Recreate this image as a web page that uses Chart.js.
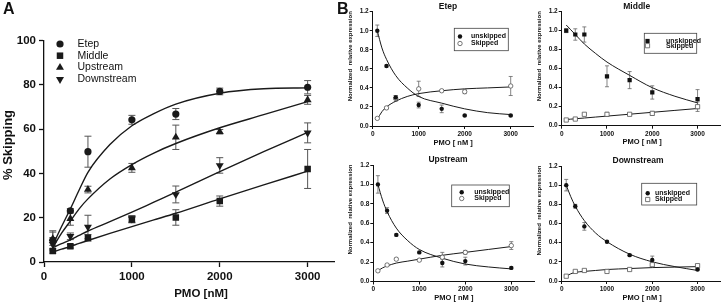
<!DOCTYPE html>
<html><head><meta charset="utf-8">
<script src="https://cdn.jsdelivr.net/npm/chart.js@4.4.1/dist/chart.umd.min.js"></script>
<style>
html,body{margin:0;padding:0;background:#fff;}
#wrap{position:relative;width:725px;height:305px;overflow:hidden;background:#fff;}
#wrap canvas{position:absolute;left:0;top:0;}
</style></head><body><div id="wrap"></div>
<script>
// ---------- DATA ----------
const doses = [100, 300, 500, 1000, 1500, 2000, 3000];
const xTicksA = [0, 1000, 2000, 3000];
const yTicksA = [0, 20, 40, 60, 80, 100];

// Panel A: % skipping (mean, error)
const etepSkip = [9.8, 23.1, 49.8, 64.2, 66.8, 77.0, 78.9];
const etepSkipErr = [4.3, 1.0, 7.0, 2.0, 2.5, 1.5, 3.0];
const middleSkip = [5.0, 7.1, 10.9, 19.2, 20.1, 27.5, 42.0];
const middleSkipErr = [1.0, 0.8, 1.5, 1.5, 3.5, 2.3, 8.8];
const upstreamSkip = [10.5, 19.6, 32.7, 42.5, 56.3, 58.8, 73.2];
const upstreamSkipErr = [3.0, 3.0, 1.5, 2.0, 5.5, 1.0, 2.0];
const downstreamSkip = [8.0, 11.6, 15.8, 19.5, 30.5, 43.6, 58.3];
const downstreamSkipErr = [3.0, 1.5, 5.3, 1.5, 3.8, 3.5, 4.5];

// Panel A fitted curves
const fitDosesA = [100, 200, 300, 400, 500, 750, 1000, 1250, 1500, 2000, 2500, 3000];
const etepFitA = [7.5, 16, 24, 32.5, 40.5, 53, 61.5, 67, 71.3, 76.2, 78.2, 78.6];
const upstreamFitA = [6.5, 13, 18.5, 24, 28.5, 37.5, 44, 49.2, 53.5, 60.6, 66.5, 72.4];
const downstreamFitA = [6.5, 8.3, 10, 12, 14, 18.2, 22.5, 27, 31.5, 40.8, 49.8, 58.5];
const middleFitA = [4.5, 5.8, 7, 8.4, 9.7, 12.9, 16, 19, 22, 28.5, 34.8, 41];

// Panel B: normalized relative expression
const fitDosesB = [100, 200, 300, 500, 750, 1000, 1500, 2000, 2500, 3000];

const etepUnsk = [1.0, 0.63, 0.30, 0.22, 0.18, 0.11, 0.11];
const etepUnskErr = [0.06, 0.01, 0.02, 0.03, 0.04, 0.01, 0.01];
const etepSk = [0.08, 0.19, 0.29, 0.39, 0.37, 0.36, 0.42];
const etepSkErr = [0.005, 0.01, 0.03, 0.08, 0.01, 0.02, 0.10];
const etepUnskFit = [1.0, 0.82, 0.70, 0.53, 0.40, 0.31, 0.24, 0.18, 0.14, 0.12];
const etepSkFit = [0.07, 0.15, 0.20, 0.26, 0.31, 0.34, 0.37, 0.39, 0.40, 0.41];

const middleUnsk = [1.0, 0.96, 0.96, 0.52, 0.48, 0.35, 0.28];
const middleUnskErr = [0.02, 0.06, 0.08, 0.11, 0.09, 0.07, 0.10];
const middleSk = [0.06, 0.07, 0.12, 0.12, 0.12, 0.13, 0.20];
const middleSkErr = [0.01, 0.01, 0.01, 0.02, 0.01, 0.02, 0.05];
const middleUnskFit = [1.06, 1.01, 0.96, 0.86, 0.76, 0.67, 0.53, 0.40, 0.31, 0.24];
const middleSkFit = [0.065, 0.069, 0.073, 0.081, 0.091, 0.101, 0.121, 0.141, 0.161, 0.181];

const upstreamUnsk = [1.0, 0.73, 0.48, 0.30, 0.19, 0.21, 0.14];
const upstreamUnskErr = [0.09, 0.03, 0.01, 0.01, 0.04, 0.04, 0.01];
const upstreamSk = [0.11, 0.17, 0.23, 0.22, 0.25, 0.30, 0.37];
const upstreamSkErr = [0.01, 0.01, 0.01, 0.01, 0.05, 0.02, 0.04];
const upstreamUnskFit = [1.0, 0.84, 0.72, 0.55, 0.42, 0.33, 0.24, 0.18, 0.15, 0.13];
const upstreamSkFit = [0.11, 0.14, 0.16, 0.19, 0.21, 0.23, 0.27, 0.30, 0.33, 0.36];

const downstreamUnsk = [1.0, 0.78, 0.57, 0.41, 0.27, 0.22, 0.12];
const downstreamUnskErr = [0.06, 0.02, 0.04, 0.01, 0.01, 0.04, 0.01];
const downstreamSk = [0.05, 0.10, 0.11, 0.10, 0.12, 0.17, 0.16];
const downstreamSkErr = [0.01, 0.01, 0.01, 0.01, 0.01, 0.02, 0.01];
const downstreamUnskFit = [1.0, 0.88, 0.78, 0.63, 0.50, 0.41, 0.28, 0.20, 0.15, 0.11];
const downstreamSkFit = [0.05, 0.075, 0.09, 0.10, 0.11, 0.12, 0.13, 0.14, 0.145, 0.15];

// ---------- HELPERS ----------
const FAM = '"Liberation Sans", Arial, Helvetica, sans-serif';
const wrap = document.getElementById('wrap');
function pts(xs, ys) { return xs.map((x, i) => ({x: x, y: ys[i]})); }

const errPlugin = {
  id: 'errbars',
  beforeDatasetsDraw(chart) {
    const ctx = chart.ctx, xs = chart.scales.x, ys = chart.scales.y;
    chart.data.datasets.forEach(ds => {
      if (!ds.errs) return;
      ctx.save();
      ctx.strokeStyle = ds.errColor; ctx.lineWidth = ds.errWidth;
      const c = ds.errCap;
      ds.data.forEach((p, j) => {
        const e = ds.errs[j]; if (!e) return;
        const x = xs.getPixelForValue(p.x);
        const y1 = ys.getPixelForValue(p.y + e), y2 = ys.getPixelForValue(p.y - e);
        ctx.beginPath();
        ctx.moveTo(x, y1); ctx.lineTo(x, y2);
        ctx.moveTo(x - c, y1); ctx.lineTo(x + c, y1);
        ctx.moveTo(x - c, y2); ctx.lineTo(x + c, y2);
        ctx.stroke();
      });
      ctx.restore();
    });
  }
};
function makeText(items) {
  return { id: 'texts', afterDraw(chart) {
    const ctx = chart.ctx;
    items.forEach(it => {
      ctx.save();
      ctx.font = it.font; ctx.fillStyle = '#111';
      ctx.textAlign = it.align || 'center'; ctx.textBaseline = 'middle';
      ctx.translate(it.x, it.y);
      if (it.rot) ctx.rotate(it.rot);
      ctx.fillText(it.t, 0, 0);
      ctx.restore();
    });
  }};
}
function makeKey(key) {
  return { id: 'key', afterDraw(chart) {
    if (!key) return;
    const ctx = chart.ctx;
    if (key.box) {
      const b = key.box;
      ctx.save(); ctx.strokeStyle = '#444'; ctx.lineWidth = 0.8;
      ctx.strokeRect(b[0], b[1], b[2] - b[0], b[3] - b[1]); ctx.restore();
    }
    key.items.forEach(it => {
      const ds = chart.data.datasets[it.ds];
      ctx.save();
      ctx.fillStyle = ds.pointBackgroundColor; ctx.strokeStyle = ds.pointBorderColor;
      ctx.lineWidth = ds.pointBorderWidth;
      Chart.helpers.drawPoint(ctx, {pointStyle: ds.pointStyle, rotation: ds.pointRotation || 0,
        radius: ds.pointRadius, borderWidth: ds.pointBorderWidth}, it.mx, it.y);
      ctx.font = key.font; ctx.fillStyle = '#111'; ctx.textAlign = 'left'; ctx.textBaseline = 'middle';
      ctx.fillText(ds.label, it.tx, it.y);
      ctx.restore();
    });
  }};
}
function panel(p) {
  const c = document.createElement('canvas');
  c.width = 725; c.height = 305; wrap.appendChild(c);
  const axisCol = '#111';
  return new Chart(c, {
    type: 'scatter',
    data: {datasets: p.datasets},
    options: {
      responsive: false, animation: false, devicePixelRatio: 1, events: [],
      layout: {padding: {left: p.area.l - p.yW, right: 725 - p.area.r, top: p.area.t, bottom: 305 - p.area.b - p.xH}},
      plugins: {legend: {display: false}, tooltip: {enabled: false}, title: {display: false}},
      scales: {
        x: {type: 'linear', min: 0, max: p.xMax,
          afterFit: s => { s.height = p.xH; },
          afterBuildTicks: s => { s.ticks = p.xTicks.map(v => ({value: v})); },
          border: {color: axisCol, width: p.axisW},
          grid: {drawOnChartArea: false, tickLength: p.tickLen, tickColor: axisCol, tickWidth: p.axisW},
          ticks: {color: '#111', font: p.tickFont, padding: p.xPad, maxRotation: 0, autoSkip: false,
            callback: v => String(v)}},
        y: {type: 'linear', min: 0, max: p.yMax,
          afterFit: s => { s.width = p.yW; },
          afterBuildTicks: s => { s.ticks = p.yTicks.map(v => ({value: v})); },
          border: {color: axisCol, width: p.axisW},
          grid: {drawOnChartArea: false, tickLength: p.tickLen, tickColor: axisCol, tickWidth: p.axisW},
          ticks: {color: '#111', font: p.tickFont, padding: p.yPad, autoSkip: false,
            callback: p.yFmt}}
      }
    },
    plugins: [errPlugin, makeText(p.texts), makeKey(p.key)]
  });
}

// ---------- PANEL A ----------
const dark = '#1a1a1a';
function markA(label, ys, errs, style, rot) {
  return {label: label, data: pts(doses, ys), errs: errs, errColor: '#555', errWidth: 1, errCap: 3.5,
    showLine: false, pointStyle: style, pointRotation: rot || 0,
    pointRadius: style === 'circle' ? 3.6 : 4.6, pointBackgroundColor: dark, pointBorderColor: dark, pointBorderWidth: 0};
}
function curve(xs, ys, w) {
  return {label: '', data: pts(xs, ys), showLine: true, pointRadius: 0, borderColor: dark,
    borderWidth: w, cubicInterpolationMode: 'monotone', fill: false};
}
panel({
  area: {l: 44, r: 334, t: 40.5, b: 262}, yW: 44, xH: 43, xMax: 3300, yMax: 100,
  xTicks: xTicksA, yTicks: yTicksA, tickLen: 5, xPad: 3, yPad: 3, axisW: 1.3,
  tickFont: {family: FAM, size: 11.5, weight: 'bold'}, yFmt: v => String(v),
  datasets: [
    markA('Etep', etepSkip, etepSkipErr, 'circle'),
    markA('Middle', middleSkip, middleSkipErr, 'rect'),
    markA('Upstream', upstreamSkip, upstreamSkipErr, 'triangle'),
    markA('Downstream', downstreamSkip, downstreamSkipErr, 'triangle', 180),
    curve(fitDosesA, etepFitA, 1.4), curve(fitDosesA, middleFitA, 1.4),
    curve(fitDosesA, upstreamFitA, 1.4), curve(fitDosesA, downstreamFitA, 1.4)
  ],
  texts: [
    {t: 'A', x: 3, y: 9.5, align: 'left', font: 'bold 16px ' + FAM},
    {t: 'B', x: 337, y: 9.5, align: 'left', font: 'bold 16px ' + FAM},
    {t: '% Skipping', x: 8, y: 145, rot: -Math.PI / 2, font: 'bold 13px ' + FAM},
    {t: 'PMO [nM]', x: 201, y: 294, font: 'bold 11.5px ' + FAM}
  ],
  key: {font: '10.5px ' + FAM, items: [
    {ds: 0, mx: 60, tx: 77.5, y: 44}, {ds: 1, mx: 60, tx: 77.5, y: 55.7},
    {ds: 2, mx: 60, tx: 77.5, y: 67.5}, {ds: 3, mx: 60, tx: 77.5, y: 79.3}
  ]}
});

// ---------- PANEL B ----------
function markB(label, ys, errs, style, filled) {
  return {label: label, data: pts(doses, ys), errs: errs, errColor: '#666', errWidth: 0.8, errCap: 2,
    showLine: false, pointStyle: style, pointRadius: style === 'circle' ? 2.2 : 3,
    pointBackgroundColor: filled ? '#111' : '#fff', pointBorderColor: filled ? '#111' : '#555',
    pointBorderWidth: filled ? 0 : 0.8};
}
const yTicksB = [0, 0.2, 0.4, 0.6, 0.8, 1.0, 1.2];
function panelB(o) {
  const a = o.area, cx = (a.l + a.r) / 2;
  panel({
    area: a, yW: 30, xH: o.xH, xMax: 3500, yMax: 1.2,
    xTicks: xTicksA, yTicks: yTicksB, tickLen: 3, xPad: o.xPad, yPad: 1, axisW: 1,
    tickFont: {family: FAM, size: 6.5, weight: 'bold'}, yFmt: v => v.toFixed(1),
    datasets: [
      markB('unskipped', o.unsk, o.unskErr, o.unskStyle, true),
      markB('Skipped', o.sk, o.skErr, o.skStyle, false),
      curve(fitDosesB, o.unskFit, 1), curve(fitDosesB, o.skFit, 1)
    ],
    texts: [
      {t: o.title, x: o.titleX, y: a.t - 5.5, font: 'bold 8.5px ' + FAM},
      {t: 'Normalized  relative expression', x: a.l - 22.7, y: a.t + 44.5, rot: -Math.PI / 2, font: 'bold 6px ' + FAM},
      {t: 'PMO [ nM ]', x: cx, y: a.b + 16.5, font: 'bold 7.5px ' + FAM}
    ],
    key: {font: 'bold 7px ' + FAM, box: o.box, items: [
      {ds: 0, mx: o.mx, tx: o.tx, y: o.ky[0]}, {ds: 1, mx: o.mx, tx: o.tx, y: o.ky[1]}
    ]}
  });
}
panelB({title: 'Etep', titleX: 448, area: {l: 372.7, r: 533.7, t: 11.7, b: 126}, xH: 24, xPad: 1.5,
  unsk: etepUnsk, unskErr: etepUnskErr, sk: etepSk, skErr: etepSkErr, unskFit: etepUnskFit, skFit: etepSkFit,
  unskStyle: 'circle', skStyle: 'circle', box: [454.3, 28.3, 508.3, 50.7], mx: 460, tx: 471, ky: [36.5, 43.5]});
panelB({title: 'Middle', titleX: 636.7, area: {l: 561.7, r: 722.7, t: 11.7, b: 125.7}, xH: 24, xPad: 1.5,
  unsk: middleUnsk, unskErr: middleUnskErr, sk: middleSk, skErr: middleSkErr, unskFit: middleUnskFit, skFit: middleSkFit,
  unskStyle: 'rect', skStyle: 'rect', box: [644.3, 33.3, 696.7, 53.3], mx: 647.5, tx: 666, ky: [41, 45.7]});
panelB({title: 'Upstream', titleX: 448, area: {l: 373.3, r: 534.3, t: 165, b: 281.5}, xH: 23.5, xPad: 1,
  unsk: upstreamUnsk, unskErr: upstreamUnskErr, sk: upstreamSk, skErr: upstreamSkErr, unskFit: upstreamUnskFit, skFit: upstreamSkFit,
  unskStyle: 'circle', skStyle: 'circle', box: [451.7, 185, 509.3, 206.7], mx: 461.7, tx: 474.3, ky: [192.3, 198.5]});
panelB({title: 'Downstream', titleX: 638, area: {l: 561.7, r: 722.7, t: 166, b: 281}, xH: 24, xPad: 1,
  unsk: downstreamUnsk, unskErr: downstreamUnskErr, sk: downstreamSk, skErr: downstreamSkErr, unskFit: downstreamUnskFit, skFit: downstreamSkFit,
  unskStyle: 'circle', skStyle: 'rect', box: [641.7, 183.3, 696.7, 205], mx: 647.7, tx: 655, ky: [193.3, 199.5]});
</script>
</body></html>
